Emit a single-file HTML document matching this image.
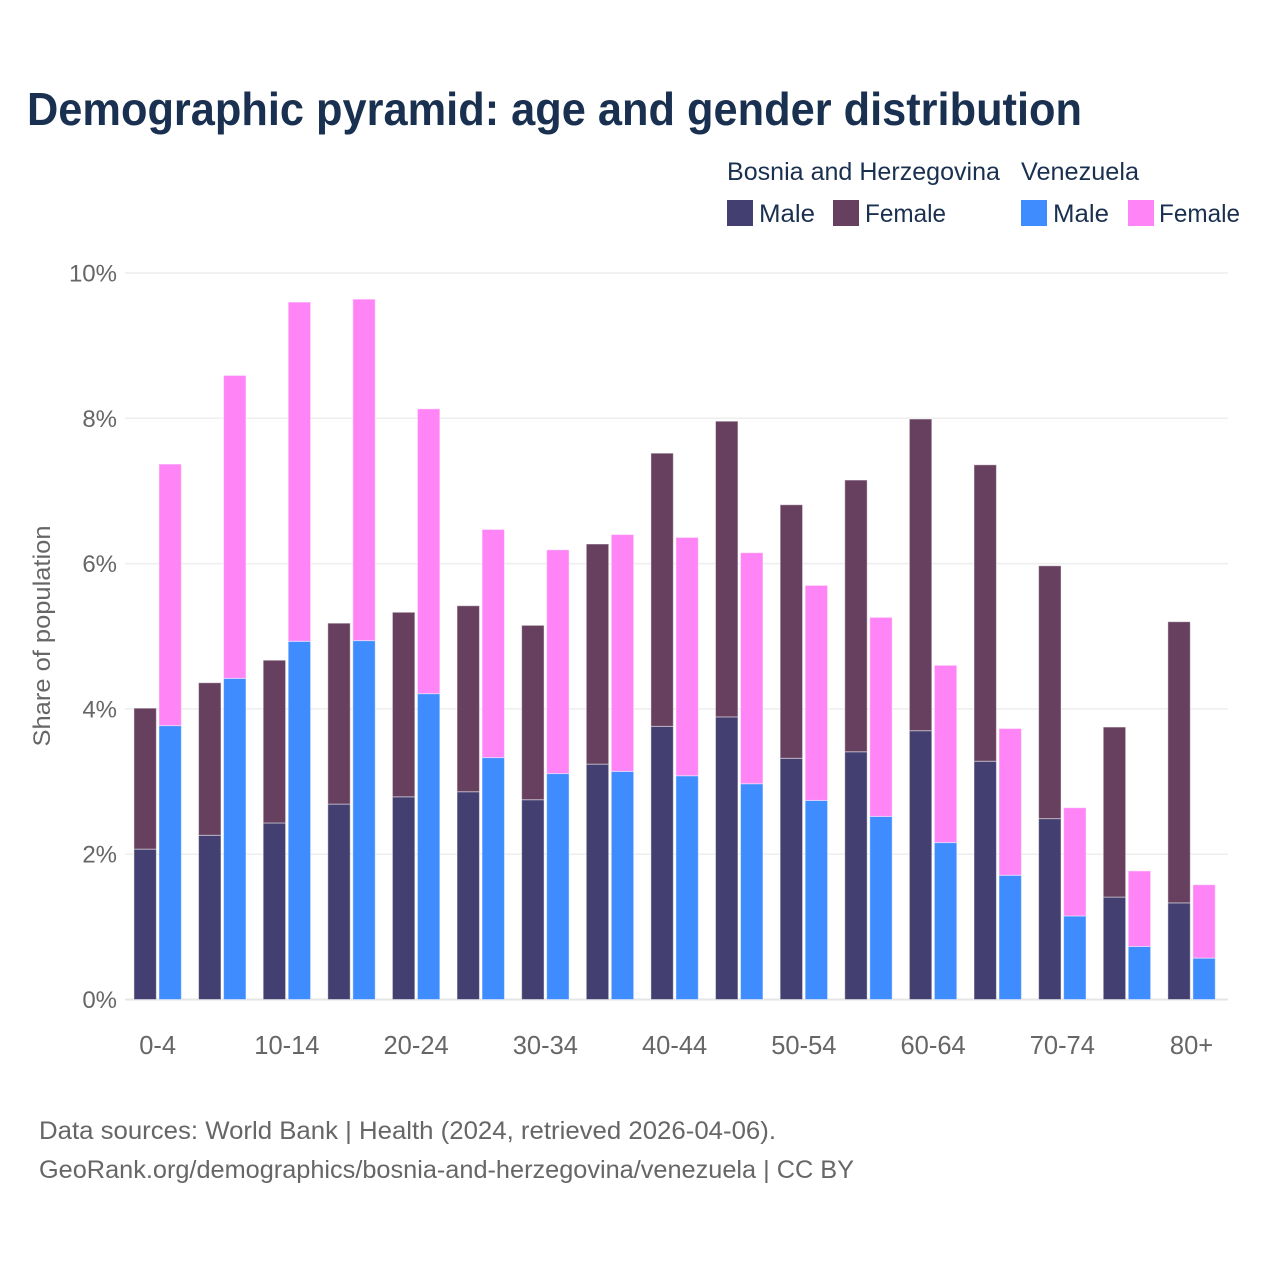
<!DOCTYPE html>
<html lang="en">
<head>
<meta charset="utf-8">
<title>Demographic pyramid: age and gender distribution</title>
<style>
html,body{margin:0;padding:0;background:#fff;width:1280px;height:1280px;overflow:hidden}
svg{display:block}
text{font-family:"Liberation Sans",sans-serif}
</style>
</head>
<body>
<svg id="chart" xmlns="http://www.w3.org/2000/svg" width="1280" height="1280" viewBox="0 0 1280 1280">
  <rect x="0" y="0" width="1280" height="1280" fill="#ffffff"/>
  <text x="27" y="125" font-size="46" font-weight="700" fill="#1a3050" textLength="1055" lengthAdjust="spacingAndGlyphs">Demographic pyramid: age and gender distribution</text>

  <g font-size="25" fill="#1a3050">
    <text x="727" y="180" textLength="273" lengthAdjust="spacingAndGlyphs">Bosnia and Herzegovina</text>
    <text x="1021" y="180" textLength="118" lengthAdjust="spacingAndGlyphs">Venezuela</text>
    <rect x="727" y="200" width="26" height="26" fill="#433f70"/>
    <text x="759" y="222" textLength="56" lengthAdjust="spacingAndGlyphs">Male</text>
    <rect x="833" y="200" width="26" height="26" fill="#67405f"/>
    <text x="865" y="222" textLength="81" lengthAdjust="spacingAndGlyphs">Female</text>
    <rect x="1021" y="200" width="26" height="26" fill="#3f8cff"/>
    <text x="1053" y="222" textLength="56" lengthAdjust="spacingAndGlyphs">Male</text>
    <rect x="1128" y="200" width="26" height="26" fill="#ff85f7"/>
    <text x="1159" y="222" textLength="81" lengthAdjust="spacingAndGlyphs">Female</text>
  </g>

  <g id="grid"></g>
  <g id="yticks"></g>
  <g id="bars"></g>
  <g id="xticks"></g>

  <text transform="translate(50,636) rotate(-90)" text-anchor="middle" font-size="24" fill="#666666" textLength="221" lengthAdjust="spacingAndGlyphs">Share of population</text>

  <text x="39" y="1139" font-size="25" fill="#666666" textLength="737" lengthAdjust="spacingAndGlyphs">Data sources: World Bank | Health (2024, retrieved 2026-04-06).</text>
  <text x="39" y="1178" font-size="25" fill="#666666" textLength="815" lengthAdjust="spacingAndGlyphs">GeoRank.org/demographics/bosnia-and-herzegovina/venezuela | CC BY</text>
</svg>
<script>
const categories = ["0-4","5-9","10-14","15-19","20-24","25-29","30-34","35-39","40-44","45-49","50-54","55-59","60-64","65-69","70-74","75-79","80+"];
const bosniaMale = [2.07,2.26,2.43,2.69,2.79,2.86,2.75,3.24,3.76,3.89,3.32,3.41,3.70,3.28,2.49,1.41,1.33];
const bosniaFemale = [1.94,2.10,2.24,2.49,2.54,2.56,2.40,3.03,3.76,4.07,3.49,3.74,4.29,4.08,3.48,2.34,3.87];
const venezuelaMale = [3.77,4.42,4.93,4.94,4.21,3.33,3.11,3.14,3.08,2.97,2.74,2.52,2.16,1.71,1.15,0.73,0.57];
const venezuelaFemale = [3.60,4.17,4.67,4.70,3.92,3.14,3.08,3.26,3.28,3.18,2.96,2.74,2.44,2.02,1.49,1.04,1.01];
const yTickValues = [0,2,4,6,8,10];
const xTickLabels = ["0-4","","10-14","","20-24","","30-34","","40-44","","50-54","","60-64","","70-74","","80+"];

const NS = "http://www.w3.org/2000/svg";
function yScale(v){ return 999.5 - v * 72.65; }
function xCenter(i){ return 157.65 + i * 64.62; }
const barWidth = 22.4;
const barGap = 2.6;

const grid = document.getElementById("grid");
const yticks = document.getElementById("yticks");
const bars = document.getElementById("bars");
const xticks = document.getElementById("xticks");

yTickValues.forEach(function(t){
  const line = document.createElementNS(NS, "line");
  
  
  line.setAttribute("x1", 125);
  line.setAttribute("x2", 1228);
  line.setAttribute("y1", yScale(t));
  line.setAttribute("y2", yScale(t));
  line.setAttribute("stroke", t === 0 ? "#e6e6e6" : "#eeeeee");
  line.setAttribute("stroke-width", t === 0 ? 2 : 1.5);
  grid.appendChild(line);

  const label = document.createElementNS(NS, "text");
  
  
  label.setAttribute("x", 117);
  label.setAttribute("y", yScale(t) + 8.5);
  label.setAttribute("text-anchor", "end");
  label.setAttribute("font-size", 24);
  label.setAttribute("fill", "#666666");
  label.textContent = t + "%";
  yticks.appendChild(label);
});

function addBar(x, base, value, fill, name){
  const r = document.createElementNS(NS, "rect");
  
  
  const y0 = yScale(base);
  const y1 = yScale(base + value);
  r.setAttribute("x", x);
  r.setAttribute("y", y1);
  r.setAttribute("width", barWidth);
  r.setAttribute("height", y0 - y1);
  r.setAttribute("fill", fill);
  r.setAttribute("stroke", "#ffffff");
  r.setAttribute("stroke-opacity", "0.45");
  r.setAttribute("stroke-width", "1");
  bars.appendChild(r);
}

categories.forEach(function(cat, i){
  const c = xCenter(i);
  const xL = c - barGap / 2 - barWidth;
  const xR = c + barGap / 2;
  addBar(xL, 0, bosniaMale[i], "#433f70", "bar-bosnia-male");
  addBar(xL, bosniaMale[i], bosniaFemale[i], "#67405f", "bar-bosnia-female");
  addBar(xR, 0, venezuelaMale[i], "#3f8cff", "bar-venezuela-male");
  addBar(xR, venezuelaMale[i], venezuelaFemale[i], "#ff85f7", "bar-venezuela-female");
  if (xTickLabels[i]) {
    const t = document.createElementNS(NS, "text");
    
    
    t.setAttribute("x", c);
    t.setAttribute("y", 1054);
    t.setAttribute("text-anchor", "middle");
    t.setAttribute("font-size", 25.5);
    t.setAttribute("fill", "#666666");
    t.textContent = xTickLabels[i];
    xticks.appendChild(t);
  }
});
</script>
</body>
</html>
